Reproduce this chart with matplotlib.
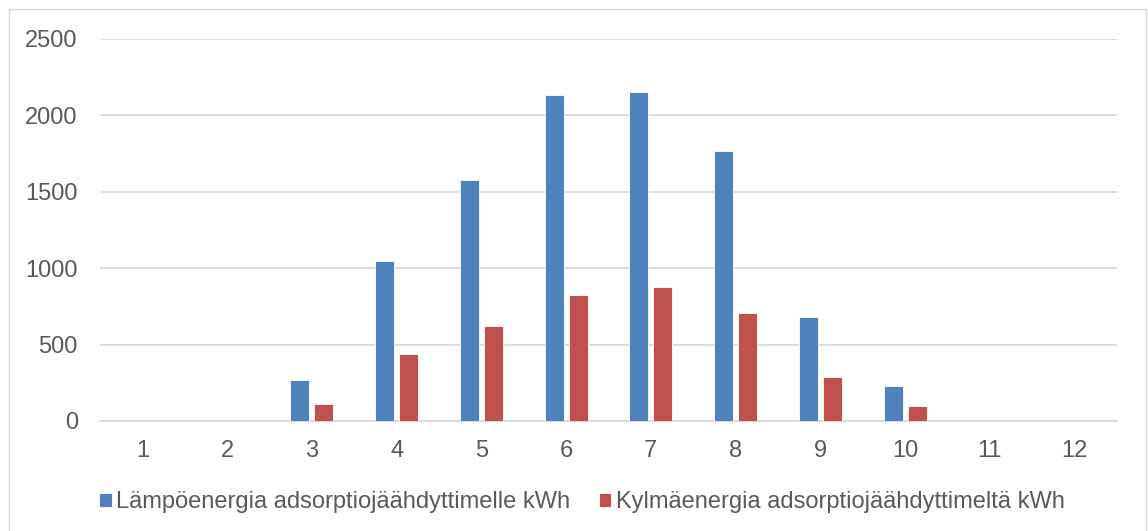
import numpy as np
import matplotlib
matplotlib.use("Agg")
import matplotlib.pyplot as plt
from matplotlib.patches import Rectangle

# kuukaudet ja energiat (luettu kuvasta)
months = [1, 2, 3, 4, 5, 6, 7, 8, 9, 10, 11, 12]
heat_kwh = [0, 0, 266, 1048, 1580, 2133, 2153, 1769, 682, 227, 0, 0]
cool_kwh = [0, 0, 114, 440, 623, 822, 880, 708, 286, 100, 0, 0]
label_heat = "Lämpöenergia adsorptiojäähdyttimelle kWh"
label_cool = "Kylmäenergia adsorptiojäähdyttimeltä kWh"

plt.rcParams['font.family'] = ['Liberation Sans', 'DejaVu Sans']
text_col = '#595959'
grid_col = '#D9D9D9'

fig = plt.figure(figsize=(11.48, 5.31), dpi=100)
ax = fig.add_axes([0.0871, 0.2072, 0.973 - 0.0871, 0.9266 - 0.2072])

x = np.arange(len(months))
w = 0.224
ax.bar(x - 0.142, heat_kwh, w, color='#4F81BD', edgecolor='white', linewidth=0.6,
       label=label_heat, zorder=3)
ax.bar(x + 0.142, cool_kwh, w, color='#C0504D', edgecolor='white', linewidth=0.6,
       label=label_cool, zorder=3)

ax.set_xlim(-0.5, len(months) - 0.5)
ax.set_ylim(0, 2500)
ax.set_yticks(range(0, 2501, 500))
ax.set_xticks(x)
ax.set_xticklabels([str(m) for m in months])
ax.yaxis.grid(True, color=grid_col, linewidth=1.3, zorder=0)
ax.tick_params(axis='both', length=0, labelsize=17, labelcolor=text_col)
ax.tick_params(axis='x', pad=14)
ax.tick_params(axis='y', pad=16)
for s in ['top', 'right', 'left']:
    ax.spines[s].set_visible(False)
ax.spines['bottom'].set_color(grid_col)
ax.spines['bottom'].set_linewidth(1.3)

fig.legend(loc='center', bbox_to_anchor=(0.507, 0.0546), ncol=2, frameon=False,
           fontsize=17, labelcolor=text_col, handlelength=0.54, handleheight=0.54,
           handletextpad=0.21, columnspacing=1.19)

# kaavion reunus
fig.patches.append(Rectangle((8.5 / 1148, -0.05), (1146 - 8.5) / 1148, 1.05 - 9 / 531,
                             transform=fig.transFigure, fill=False,
                             edgecolor=grid_col, linewidth=1.0))

fig.savefig('out.png', dpi=100)
